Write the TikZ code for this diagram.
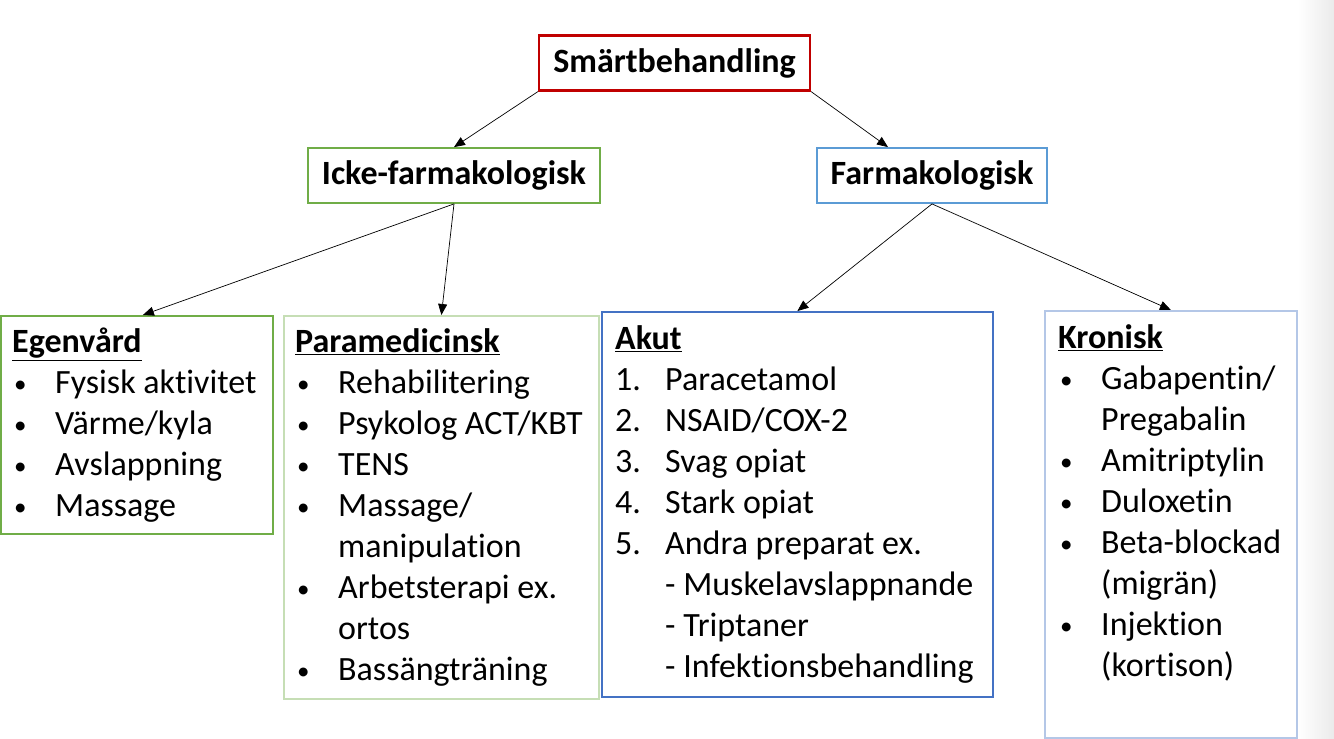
\documentclass[tikz,border=0pt]{standalone}
\usepackage{fontspec}
\setmainfont{Carlito}[Ligatures=NoCommon]
\usetikzlibrary{arrows.meta}
\definecolor{rubin}{RGB}{192,0,0}
\definecolor{gras}{RGB}{112,173,71}
\definecolor{himmel}{RGB}{91,155,213}
\definecolor{kobalt}{RGB}{68,114,196}
\colorlet{gras-lighter}{gras!40}
\colorlet{kobalt-lighter}{kobalt!40}
\newcommand{\punkt}{\makebox[43pt][l]{\hspace{2pt}\raisebox{1.5pt}{\fontsize{25}{41}\selectfont\textbullet}}}
\newcommand{\einzug}{\hspace*{43pt}}
\newcommand{\nummer}[1]{\makebox[50pt][l]{#1}}

\begin{document}
\begin{tikzpicture}[x=1pt, y=-1pt,
	kasten/.style={draw, line width=1.8pt, minimum height=55pt, inner sep=0pt,
		font=\fontsize{34}{41}\selectfont\bfseries},
	liste/.style={draw, line width=1.8pt, anchor=north west, inner sep=0pt},
	inhalt/.style={anchor=north west, align=left, inner sep=0pt,
		font=\fontsize{34}{41}\selectfont},
	pil/.style={-{Triangle[length=11pt, width=9pt]}, line width=0.7pt}]

	\useasboundingbox (0,0) rectangle (1334,739);
	\shade[left color=white, right color=black!8] (1298,0) rectangle (1334,739);

	\node[kasten, draw=rubin, line width=2.2pt, minimum width=271pt] (smart) at (674.5,63) {Smärtbehandling};
	\node[kasten, draw=gras, minimum width=292pt] (icke) at (454,175.5) {Icke-farmakologisk};
	\node[kasten, draw=himmel, minimum width=230pt] (farm) at (932,175.5) {Farmakologisk};

	\node[liste, draw=gras, minimum width=272pt, minimum height=218pt] (egen) at (0,315) {};
	\node[liste, draw=gras-lighter, minimum width=315pt, minimum height=383pt] (para) at (283,315) {};
	\node[liste, draw=kobalt, minimum width=391pt, minimum height=385pt] (akut) at (601,311) {};
	\node[liste, draw=kobalt-lighter, minimum width=252pt, minimum height=427pt] (kron) at (1044,310) {};

	% listor
	\node[inhalt] (egentext) at ([xshift=12pt, yshift=-9pt]egen.north west)
		{\strut\underline{\textbf{Egenvård}}\\
		\punkt Fysisk aktivitet\\
		\punkt Värme/kyla\\
		\punkt Avslappning\\
		\punkt Massage};
	\node[inhalt] (paratext) at ([xshift=12pt, yshift=-9pt]para.north west)
		{\strut\underline{\textbf{Paramedicinsk}}\\
		\punkt Rehabilitering\\
		\punkt Psykolog ACT/KBT\\
		\punkt TENS\\
		\punkt Massage/\\
		\einzug manipulation\\
		\punkt Arbetsterapi ex.\\
		\einzug ortos\\
		\punkt Bassängträning};
	\node[inhalt] (akuttext) at ([xshift=14pt, yshift=-10pt]akut.north west)
		{\strut\underline{\textbf{Akut}}\\
		\nummer{1.}Paracetamol\\
		\nummer{2.}NSAID/COX-2\\
		\nummer{3.}Svag opiat\\
		\nummer{4.}Stark opiat\\
		\nummer{5.}Andra preparat ex.\\
		\nummer{}- Muskelavslappnande\\
		\nummer{}- Triptaner\\
		\nummer{}- Infektionsbehandling};
	\node[inhalt] (krontext) at ([xshift=14pt, yshift=-10pt]kron.north west)
		{\strut\underline{\textbf{Kronisk}}\\
		\punkt Gabapentin/\\
		\einzug Pregabalin\\
		\punkt Amitriptylin\\
		\punkt Duloxetin\\
		\punkt Beta-blockad\\
		\einzug (migrän)\\
		\punkt Injektion\\
		\einzug (kortison)};

	\draw[pil] (smart.south west) -- (icke.north);
	\draw[pil] (smart.south east) -- ([xshift=-44pt]farm.north);
	\draw[pil] (icke.south) -- ([xshift=6pt]egen.north);
	\draw[pil] (icke.south) -- (para.north);
	\draw[pil] (farm.south) -- (akut.north);
	\draw[pil] (farm.south) -- (kron.north);

\end{tikzpicture}
\end{document}
